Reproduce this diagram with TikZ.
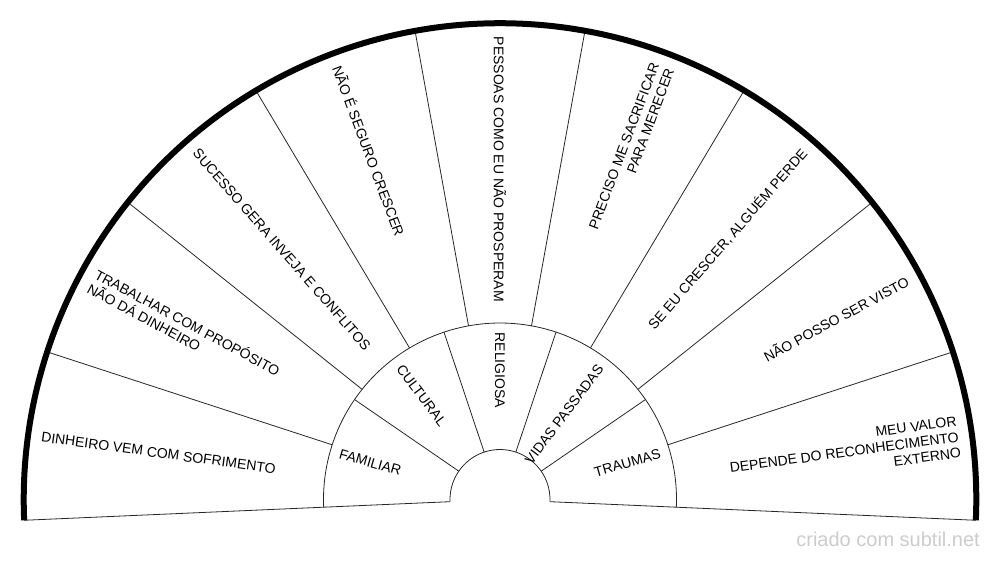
\documentclass[tikz,border=0pt]{standalone}
\usepackage{fontspec}
\setmainfont{Liberation Sans}
\begin{document}
\begin{tikzpicture}[x=1pt,y=1pt,
  thinline/.style={line width=0.8pt, black!85},
  rim/.style={line width=6pt, black},
  lbl/.style={font=\fontsize{14}{16}\selectfont, inner sep=0pt},
  leftlbl/.style={lbl, anchor=west, align=left},
  rightlbl/.style={lbl, anchor=east, align=right},
  wmark/.style={font=\fontsize{20}{24}\selectfont, text=black!20, inner sep=0pt, anchor=base east}
]
\useasboundingbox (-500,-60.5) rectangle (500,499.5);
\def\Ri{50}
\def\Rm{176.5}
\def\Ro{476.3}
\def\Rt{463}
\def\Rs{167}
\coordinate (c) at (0,0);
% rings
\draw[thinline] (-2.5:\Ri) arc[start angle=-2.5, end angle=182.5, radius=\Ri];
\draw[thinline] (-2.5:\Rm) arc[start angle=-2.5, end angle=182.5, radius=\Rm];
% bottom edges
\draw[thinline] (-2.5:\Ri) -- (-2.5:\Ro);
\draw[thinline] (182.5:\Ri) -- (182.5:\Ro);
% outer dividers
\foreach \k in {1,...,8} \draw[thinline] ({182.5-\k*185/9}:\Rm) -- ({182.5-\k*185/9}:\Ro);
% inner dividers
\foreach \k in {1,...,4} \draw[thinline] ({182.5-\k*37}:\Ri) -- ({182.5-\k*37}:\Rm);
% rim
\draw[rim] (-2.5:\Ro) arc[start angle=-2.5, end angle=182.5, radius=\Ro];

% outer labels
\node[leftlbl, rotate=-7.778] (o0) at (172.222:\Rt) {DINHEIRO VEM COM SOFRIMENTO};
\node[leftlbl, rotate=-28.333] (o1) at (151.667:\Rt) {TRABALHAR COM PROPÓSITO\\NÃO DÁ DINHEIRO};
\node[leftlbl, rotate=-48.889] (o2) at (131.111:\Rt) {SUCESSO GERA INVEJA E CONFLITOS};
\node[leftlbl, rotate=-69.444] (o3) at (110.556:\Rt) {NÃO É SEGURO CRESCER};
\node[leftlbl, rotate=-90] (o4) at (90:\Rt) {PESSOAS COMO EU NÃO PROSPERAM};
\node[rightlbl, rotate=69.444] (o5) at (69.444:\Rt) {PRECISO ME SACRIFICAR\\PARA MERECER};
\node[rightlbl, rotate=48.889] (o6) at (48.889:\Rt) {SE EU CRESCER, ALGUÉM PERDE};
\node[rightlbl, rotate=28.333] (o7) at (28.333:\Rt) {NÃO POSSO SER VISTO};
\node[rightlbl, rotate=7.778] (o8) at (7.778:\Rt) {MEU VALOR\\DEPENDE DO RECONHECIMENTO\\EXTERNO};

% inner labels
\node[leftlbl, rotate=-16] (i0) at (164:\Rs) {FAMILIAR};
\node[leftlbl, rotate=-53] (i1) at (127:\Rs) {CULTURAL};
\node[leftlbl, rotate=-90] (i2) at (90:\Rs) {RELIGIOSA};
\node[rightlbl, rotate=53] (i3) at (53:\Rs) {VIDAS PASSADAS};
\node[rightlbl, rotate=16] (i4) at (16:\Rs) {TRAUMAS};

% watermark
\node[wmark] (wm) at (480,-47.2) {criado com subtil.net};
\end{tikzpicture}
\end{document}
